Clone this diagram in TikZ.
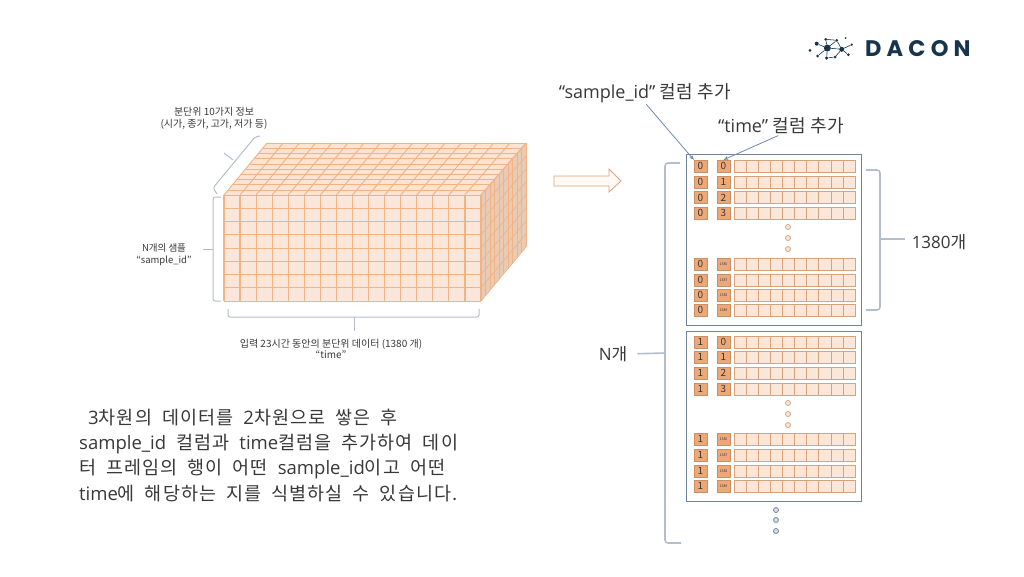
\documentclass[tikz,border=0pt]{standalone}
\usepackage{fontspec}
\setmainfont{Noto Sans CJK KR}
\newfontfamily\bodyfont[LetterSpace=6,WordSpace=1.9]{Noto Sans CJK KR}
\newfontfamily\labelfont[LetterSpace=2]{Noto Sans CJK KR}
\newfontfamily\latinfont{Open Sans}
\newfontfamily\logofont[LetterSpace=23]{Poppins}
\newcommand{\lat}[1]{{\latinfont #1}}
\definecolor{cellfill}{HTML}{FBE6DA}
\definecolor{cellline}{HTML}{F1B386}
\definecolor{topfill}{HTML}{FCE3D2}
\definecolor{sidefill}{HTML}{E8CBB5}
\definecolor{idfill}{HTML}{EDA878}
\definecolor{stripline}{HTML}{D9A279}
\definecolor{panelline}{HTML}{71859A}
\definecolor{braceline}{HTML}{B3BECC}
\definecolor{arrowblue}{HTML}{6E88B8}
\definecolor{logoblue}{HTML}{17344D}
\tikzset{
  every node/.style={inner sep=0pt, text=black!78},
  smalltxt/.style={font={\fontsize{10pt}{11.8pt}\selectfont}, align=center},
  bigtxt/.style={font={\labelfont\fontsize{17pt}{20pt}\selectfont}},
  columntxt/.style={font={\labelfont\fontsize{18pt}{20pt}\selectfont}},
  bodytxt/.style={font={\bodyfont\fontsize{18.5pt}{25.3pt}\selectfont}, align=left, anchor=north west},
  panelbox/.style={draw=panelline, line width=1pt, minimum width=175pt, minimum height=171pt},
  idbox/.style={fill=idfill, draw=idfill!85!black, line width=0.4pt, minimum width=13pt, minimum height=12pt, font={\fontsize{10pt}{12pt}\selectfont}},
  tinybox/.style={idbox, font={\fontsize{3.5pt}{4pt}\selectfont}},
  stripbox/.style={fill=cellfill, draw=stripline, line width=0.7pt, minimum width=121pt, minimum height=12pt},
  dotmark/.style={circle, draw=#1, fill=#1!25, line width=0.8pt, minimum size=5pt},
  bracket/.style={draw=braceline, line width=1.6pt, rounded corners=3pt},
  thinbracket/.style={draw=braceline, line width=1pt, rounded corners=2pt},
  pointer/.style={draw=arrowblue, line width=0.8pt, -{Stealth[length=5pt,width=4pt]}},
  logonode/.style={circle, fill=logoblue, minimum size=#1},
  logolink/.style={draw=logoblue, line width=0.6pt}
}
\usetikzlibrary{arrows.meta}

\begin{document}
\begin{tikzpicture}[x=1pt,y=1pt]
\useasboundingbox (0,0) rectangle (1024,-576);

% logo
\node (logoA) [logonode=7pt] at (827.3,-48) {};
\node (logoB) [logonode=5pt] at (841.7,-49.3) {};
\node (logoC) [logonode=4pt] at (816.7,-43.7) {};
\node (logoD) [logonode=3pt] at (810,-50.3) {};
\node (logoE) [logonode=3pt] at (817.7,-56) {};
\node (logoF) [logonode=3.5pt] at (826.7,-58) {};
\node (logoG) [logonode=3pt] at (835,-57) {};
\node (logoH) [logonode=3pt] at (825.7,-39.3) {};
\node (logoI) [logonode=3pt] at (836.7,-40.3) {};
\node (logoJ) [logonode=2pt] at (845.7,-38) {};
\node (logoK) [logonode=2.5pt] at (851.7,-44.7) {};
\node (logoL) [logonode=3pt] at (848.3,-54.7) {};
\foreach \p/\q in {A/B,A/C,A/E,A/F,A/H,A/I,H/I,I/B,B/K,B/L,B/G,F/G}
  \draw [logolink] (logo\p) -- (logo\q);
\node (logotxt) [anchor=west, text=logoblue, font={\logofont\bfseries\fontsize{22.5pt}{24pt}\selectfont}] at (865,-49) {DACON};

% cube
\fill [topfill] (224,-195) -- (481,-195) -- (526,-143) -- (267,-143) -- cycle;
\fill [sidefill] (481,-195) -- (526,-143) -- (526,-247) -- (481,-301) -- cycle;
\fill [cellfill] (224,-195) rectangle (481,-301);
\foreach \i in {0,...,16} {
  \draw [cellline, line width=1.2pt] (224+16.06*\i,-195) -- (224+16.06*\i,-301);
  \draw [cellline, line width=0.9pt] (224+16.06*\i,-195) -- (267+16.19*\i,-143);
}
\foreach \j in {0,...,8} {
  \draw [cellline, line width=1pt] (224,-195-13.25*\j) -- (481,-195-13.25*\j);
  \draw [cellline, line width=0.7pt] (481,-195-13.25*\j) -- (526,-143-13*\j);
}
\foreach \k in {1,...,10} {
  \draw [cellline, line width=0.6pt] (224+4.3*\k,-195+5.2*\k) -- (481+4.5*\k,-195+5.2*\k);
  \draw [cellline, line width=0.7pt] (481+4.5*\k,-195+5.2*\k) -- (481+4.5*\k,-301+5.4*\k);
}

% cube labels
\node (lblinfo) [smalltxt] at (214,-118) {분단위 10가지 정보\\(시가, 종가, 고가, 저가 등)};
\node (lblsamples) [smalltxt, font={\fontsize{9.5pt}{11.8pt}\selectfont}] at (164,-255) {N개의 샘플\\“sample\_id”};
\node (lbltimes) [smalltxt] at (331,-349) {입력 23시간 동안의 분단위 데이터 (1380 개)\\“time”};
\draw [thinbracket] (260,-136) -- (255,-137) -- (213,-188) -- (217,-194);
\coordinate (tickinfo) at (233,-160);
\coordinate (tickinfoend) at (224,-153);
\draw [thinbracket] (tickinfo) -- (tickinfoend);
\draw [thinbracket] (221,-197) -- (213,-197) -- (213,-301) -- (221,-301);
\coordinate (ticksamples) at (213,-249);
\draw [thinbracket, shorten <=11pt] (lblsamples.east |- ticksamples) -- (ticksamples);
\draw [thinbracket] (228,-309) -- (228,-317) -- (479,-317) -- (479,-309);
\coordinate (ticktimes) at (354,-317);
\draw [thinbracket, shorten <=7pt] (354,-338) -- (ticktimes);

% arrow between
\draw [fill=orange!4, draw=stripline, line width=0.8pt] (554,-176) -- (609,-176) -- (609,-169) -- (621,-181) -- (609,-192) -- (609,-186) -- (554,-186) -- cycle;

% two panels
\node (panelA) [panelbox] at (773.5,-239.5) {};
\node (panelB) [panelbox, minimum height=170pt] at (774,-416) {};

% rows, first panel
\foreach \y/\a/\b/\s in {166/0/0/idbox,182/0/1/idbox,197.6/0/2/idbox,213/0/3/idbox,264/0/1386/tinybox,280/0/1387/tinybox,295/0/1388/tinybox,310/0/1389/tinybox,342/1/0/idbox,357/1/1/idbox,373/1/2/idbox,389/1/3/idbox,439/1/1386/tinybox,455/1/1387/tinybox,471/1/1388/tinybox,486/1/1389/tinybox} {
  \node (id\a-\b) [idbox] at (700.5,-\y) {\a};
  \node (time\a-\b) [\s] at (723.5,-\y) {\b};
  \node (strip\a-\b) [stripbox] at (794.5,-\y) {};
  \foreach \c in {1,...,9}
    \draw [stripline, line width=0.6pt] (734+12.1*\c,-\y+6) -- (734+12.1*\c,-\y-6);
}

% dots
\node (dotA1) [dotmark=stripline] at (788,-227) {};
\node (dotA2) [dotmark=stripline] at (788,-238) {};
\node (dotA3) [dotmark=stripline] at (788,-249) {};
\node (dotB1) [dotmark=stripline] at (788,-403) {};
\node (dotB2) [dotmark=stripline] at (788,-414) {};
\node (dotB3) [dotmark=stripline] at (788,-425) {};
\node (dotC1) [dotmark=panelline] at (776,-510) {};
\node (dotC2) [dotmark=panelline] at (776,-520) {};
\node (dotC3) [dotmark=panelline] at (776,-531) {};

% column labels
\node (lblsample) [columntxt] at (645,-93) {\lat{“sample\_id”} 컬럼 추가};
\node (lbltime) [columntxt] at (781,-126) {\lat{“time”} 컬럼 추가};
\draw [pointer, shorten <=2pt] (lblsample.south) -- (id0-0.north west);
\draw [pointer, shorten <=3pt] (lbltime.south) -- (time0-0.north);

% big brackets
\node (lblcount) [bigtxt] at (939,-242) {\lat{1380}개};
\draw [bracket] (866,-170) -- (880,-170) -- (880,-310) -- (866,-310);
\coordinate (brcount) at (880,-239);
\draw [bracket, shorten <=7pt] (lblcount.west |- brcount) -- (brcount);
\node (lblN) [bigtxt] at (613,-354) {\lat{N}개};
\draw [bracket] (680,-163) -- (665,-163) -- (665,-543) -- (681,-543);
\coordinate (brN) at (665,-353);
\draw [bracket, shorten <=10pt] (lblN.east) -- (brN);

% text below
\node (lblbody) [bodytxt] at (79,-408.5) {\hspace*{9pt}\lat{3}차원의 데이터를 \lat{2}차원으로 쌓은 후\\\lat{sample\_id} 컬럼과 \lat{time}컬럼을 추가하여 데이\\터 프레임의 행이 어떤 \lat{sample\_id}이고 어떤\\\lat{time}에 해당하는 지를 식별하실 수 있습니다.};
\end{tikzpicture}
\end{document}
